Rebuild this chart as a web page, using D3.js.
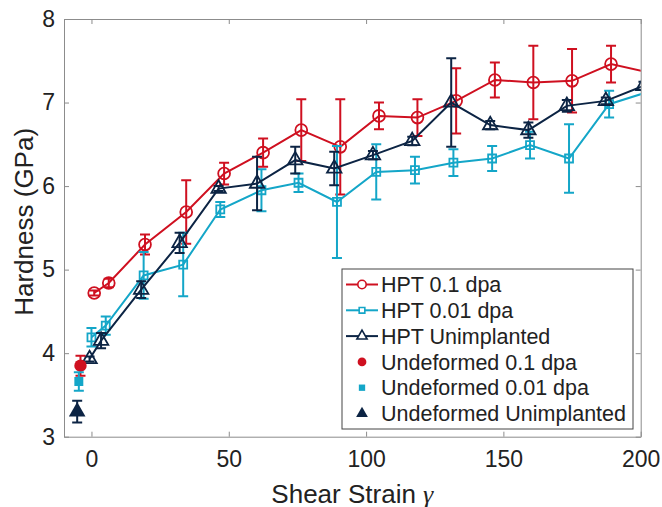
<!DOCTYPE html>
<html>
<head>
<meta charset="utf-8">
<script src="https://cdn.jsdelivr.net/npm/d3@7"></script>
<style>
  body { margin: 0; background: #fff; }
  svg { display: block; font-family: "Liberation Sans", Arial, Helvetica, sans-serif; }
  .axis text { font-size: 23px; fill: #222; }
  .axis path, .axis line { stroke: #8c8c8c; }
  .axis-label { font-size: 26px; fill: #222; }
  .legend text { font-size: 21.5px; fill: #222; }
</style>
</head>
<body>
<svg width="662" height="507"></svg>
<script>
  // HPT 0.1 dpa
  const strain01 = [1, 6.3, 19.5, 34.5, 48.3, 62.5, 76.4, 90.6, 104.7, 118.7, 132.8, 146.9, 160.9, 175, 189.2, 203];
  const hard01 = [4.72, 4.84, 5.30, 5.69, 6.15, 6.40, 6.67, 6.47, 6.84, 6.82, 7.02, 7.27, 7.24, 7.26, 7.46, 7.36];
  const err01 = [0.03, 0.05, 0.12, 0.38, 0.13, 0.17, 0.37, 0.57, 0.16, 0.22, 0.39, 0.21, 0.44, 0.38, 0.22, 0.2];

  // HPT 0.01 dpa
  const strain001 = [0, 5.2, 19.0, 33.4, 46.9, 61.9, 75.4, 89.4, 103.7, 117.8, 131.8, 145.9, 159.7, 173.9, 188.5, 202];
  const hard001 = [4.19, 4.33, 4.93, 5.06, 5.72, 5.95, 6.04, 5.81, 6.17, 6.19, 6.28, 6.33, 6.49, 6.33, 6.98, 7.12];
  const err001 = [0.11, 0.11, 0.28, 0.38, 0.09, 0.25, 0.11, 0.67, 0.33, 0.16, 0.16, 0.15, 0.16, 0.41, 0.16, 0.15];

  // HPT Unimplanted
  const strainUn = [-0.7, 3.5, 18.1, 32.1, 46.3, 60.3, 74.2, 88.4, 102.5, 116.8, 131, 145.2, 159.1, 173.1, 187.3, 201];
  const hardUn = [3.93, 4.15, 4.76, 5.32, 5.97, 6.03, 6.31, 6.21, 6.37, 6.54, 7.0, 6.73, 6.67, 6.96, 7.02, 7.20];
  const errUn = [0.03, 0.09, 0.1, 0.12, 0.03, 0.32, 0.16, 0.2, 0.05, 0.05, 0.53, 0.05, 0.09, 0.07, 0.04, 0.05];

  // Undeformed samples: 0.1 dpa, 0.01 dpa, Unimplanted
  const undefStrain = [-4, -4.6, -5.2];
  const undefHard = [3.85, 3.66, 3.30];
  const undefErr = [0.12, 0.11, 0.13];

  const xTicks = [0, 50, 100, 150, 200];
  const yTicks = [3, 4, 5, 6, 7, 8];

  const legendLabels = ['HPT 0.1 dpa', 'HPT 0.01 dpa', 'HPT Unimplanted',
    'Undeformed 0.1 dpa', 'Undeformed 0.01 dpa', 'Undeformed Unimplanted'];

  const red = '#cf1020';
  const cyan = '#14a6c8';
  const navy = '#0c2444';

  const svg = d3.select('svg');
  const width = +svg.attr('width');
  const height = +svg.attr('height');

  const margin = { top: 19, right: 21.3, bottom: 70.3, left: 64 };
  const innerWidth = width - margin.left - margin.right;
  const innerHeight = height - margin.top - margin.bottom;

  const xScale = d3.scaleLinear().domain([-10, 200]).range([0, innerWidth]);
  const yScale = d3.scaleLinear().domain([3, 8]).range([innerHeight, 0]);

  const g = svg.append('g')
    .attr('transform', `translate(${margin.left},${margin.top})`);

  svg.append('defs').append('clipPath').attr('id', 'plot-clip')
    .append('rect').attr('width', innerWidth).attr('height', innerHeight);

  // box axes, ticks pointing inward
  g.append('g').attr('class', 'axis')
    .attr('transform', `translate(0,${innerHeight})`)
    .call(d3.axisBottom(xScale).tickValues(xTicks).tickFormat(d3.format('d'))
      .tickSizeInner(-5).tickSizeOuter(0).tickPadding(14));
  g.append('g').attr('class', 'axis')
    .call(d3.axisTop(xScale).tickValues(xTicks).tickSizeInner(-5).tickSizeOuter(0).tickFormat(''));
  g.append('g').attr('class', 'axis')
    .call(d3.axisLeft(yScale).tickValues(yTicks).tickFormat(d3.format('d'))
      .tickSizeInner(-5).tickSizeOuter(0).tickPadding(9));
  g.append('g').attr('class', 'axis')
    .attr('transform', `translate(${innerWidth},0)`)
    .call(d3.axisRight(yScale).tickValues(yTicks).tickSizeInner(-5).tickSizeOuter(0).tickFormat(''));

  g.append('text')
    .attr('class', 'axis-label')
    .attr('transform', `translate(-31,${innerHeight / 2 - 6}) rotate(-90)`)
    .attr('text-anchor', 'middle')
    .text('Hardness (GPa)');

  const xLabel = g.append('text')
    .attr('class', 'axis-label')
    .attr('x', innerWidth / 2)
    .attr('y', innerHeight + 66)
    .attr('text-anchor', 'middle')
    .text('Shear Strain ');
  xLabel.append('tspan')
    .attr('font-family', '"Liberation Serif", "DejaVu Serif", serif')
    .attr('font-style', 'italic')
    .text('γ');

  const symbolFor = {
    circle: d3.symbolCircle,
    square: d3.symbolSquare,
    triangle: d3.symbolTriangle
  };

  const series = [
    { x: strain01, y: hard01, e: err01, color: red, shape: 'circle', size: 110 },
    { x: strain001, y: hard001, e: err001, color: cyan, shape: 'square', size: 64 },
    { x: strainUn, y: hardUn, e: errUn, color: navy, shape: 'triangle', size: 90 }
  ];

  const plot = g.append('g').attr('clip-path', 'url(#plot-clip)');

  const lineGen = d3.line()
    .x(d => xScale(d[0]))
    .y(d => yScale(d[1]));

  const drawErrors = (sel, pts, color) => {
    const eg = sel.append('g').attr('stroke', color).attr('stroke-width', 2);
    pts.forEach(p => {
      const px = xScale(p[0]);
      const y0 = yScale(p[1] - p[2]);
      const y1 = yScale(p[1] + p[2]);
      eg.append('line').attr('x1', px).attr('x2', px).attr('y1', y0).attr('y2', y1);
      eg.append('line').attr('x1', px - 5).attr('x2', px + 5).attr('y1', y0).attr('y2', y0);
      eg.append('line').attr('x1', px - 5).attr('x2', px + 5).attr('y1', y1).attr('y2', y1);
    });
  };

  series.forEach(s => {
    const pts = s.x.map((v, i) => [v, s.y[i], s.e[i]]);
    const sg = plot.append('g');
    drawErrors(sg, pts, s.color);
    sg.append('path')
      .attr('d', lineGen(pts))
      .attr('fill', 'none')
      .attr('stroke', s.color)
      .attr('stroke-width', 2);
    sg.selectAll('path.marker')
      .data(pts)
      .join('path')
      .attr('class', 'marker')
      .attr('transform', d => `translate(${xScale(d[0])},${yScale(d[1])})`)
      .attr('d', d3.symbol(symbolFor[s.shape], s.size))
      .attr('fill', 'none')
      .attr('stroke', s.color)
      .attr('stroke-width', 1.8);
  });

  // undeformed reference points
  const undefColors = [red, cyan, navy];
  const undefShapes = ['circle', 'square', 'triangle'];
  const undefSizes = [120, 80, 120];
  undefStrain.forEach((v, i) => {
    const ug = plot.append('g');
    drawErrors(ug, [[v, undefHard[i], undefErr[i]]], undefColors[i]);
    ug.append('path')
      .attr('transform', `translate(${xScale(v)},${yScale(undefHard[i])})`)
      .attr('d', d3.symbol(symbolFor[undefShapes[i]], undefSizes[i]))
      .attr('fill', undefColors[i]);
  });

  // legend
  const legend = g.append('g').attr('class', 'legend')
    .attr('transform', `translate(${342 - margin.left},${269 - margin.top})`);
  legend.append('rect')
    .attr('width', 291).attr('height', 160)
    .attr('fill', '#fff').attr('stroke', '#444').attr('stroke-width', 1);

  const rowY = i => 15.5 + i * 25.8;
  series.forEach((s, i) => {
    legend.append('line')
      .attr('x1', 4).attr('x2', 36).attr('y1', rowY(i)).attr('y2', rowY(i))
      .attr('stroke', s.color).attr('stroke-width', 2);
    legend.append('path')
      .attr('transform', `translate(20,${rowY(i)})`)
      .attr('d', d3.symbol(symbolFor[s.shape], s.size * 0.5))
      .attr('fill', '#fff').attr('stroke', s.color).attr('stroke-width', 1.6);
  });
  undefColors.forEach((c, i) => {
    legend.append('path')
      .attr('transform', `translate(20,${rowY(i + 3)})`)
      .attr('d', d3.symbol(symbolFor[undefShapes[i]], undefSizes[i] * 0.5))
      .attr('fill', c);
  });
  legendLabels.forEach((t, i) => {
    legend.append('text')
      .attr('x', 39)
      .attr('y', rowY(i))
      .attr('dy', '0.36em')
      .text(t);
  });
</script>
</body>
</html>
